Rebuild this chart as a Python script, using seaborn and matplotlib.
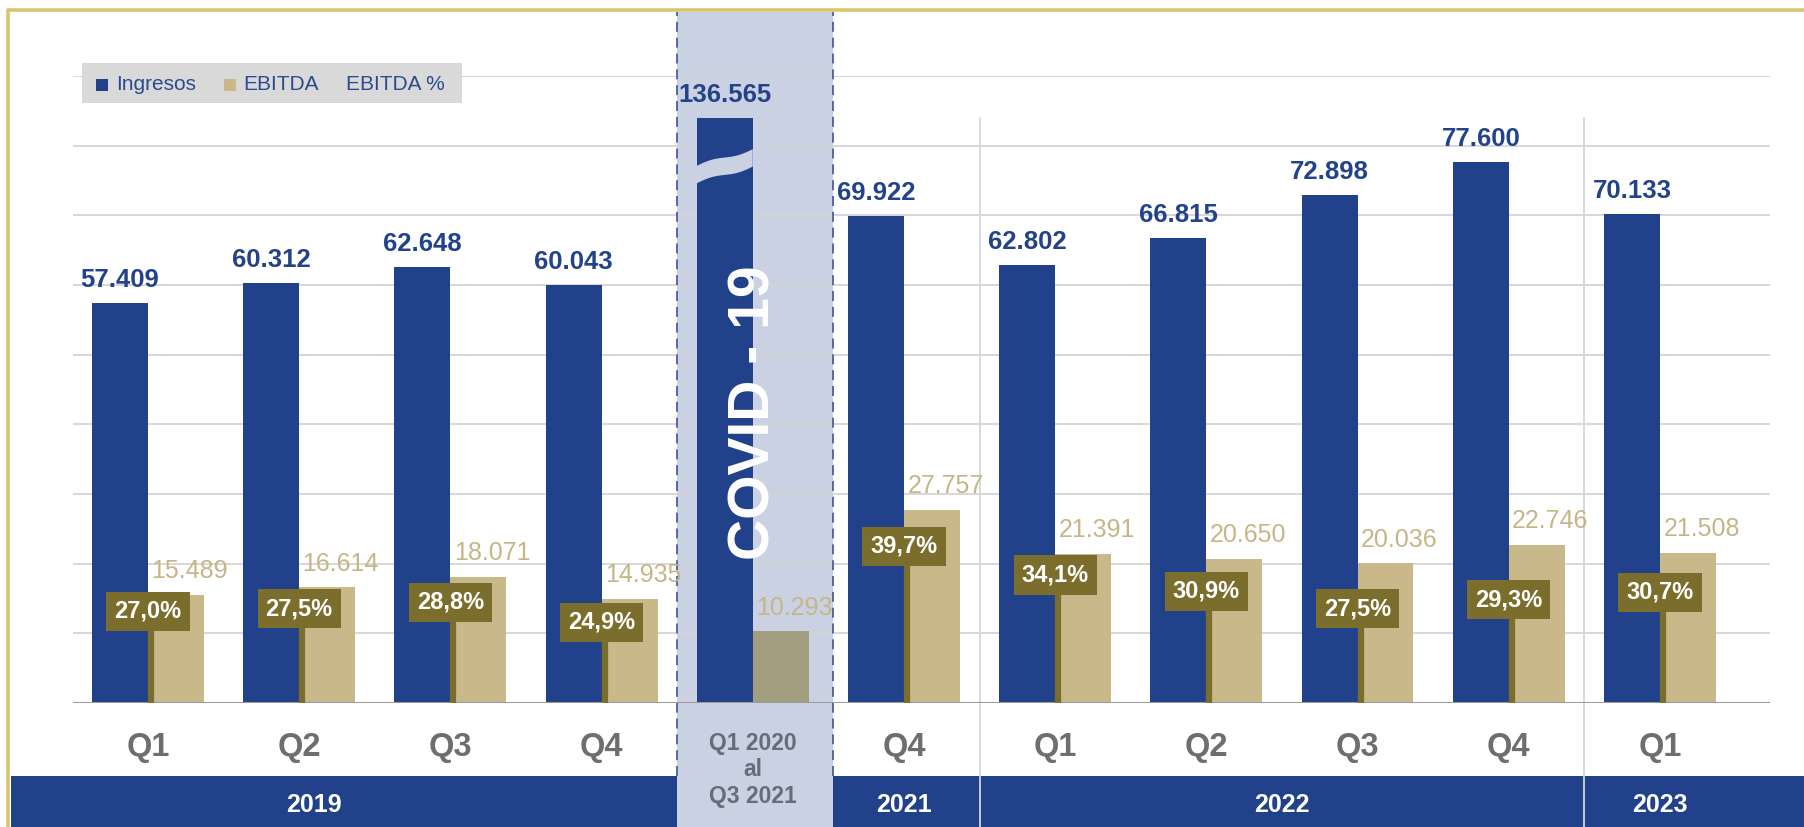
import numpy as np
import pandas as pd
import matplotlib
matplotlib.use("Agg")
import matplotlib.pyplot as plt
import seaborn as sns
from matplotlib.patches import Rectangle, Polygon
from matplotlib.lines import Line2D
from matplotlib.transforms import blended_transform_factory

# ---------------- data ----------------
periods = ["Q1 2019", "Q2 2019", "Q3 2019", "Q4 2019", "Q1 2020 - Q3 2021", "Q4 2021",
           "Q1 2022", "Q2 2022", "Q3 2022", "Q4 2022", "Q1 2023"]
tick_labels = ["Q1", "Q2", "Q3", "Q4", "Q1 2020\nal\nQ3 2021", "Q4", "Q1", "Q2", "Q3", "Q4", "Q1"]
ingresos = [57409, 60312, 62648, 60043, 136565, 69922, 62802, 66815, 72898, 77600, 70133]
ebitda = [15489, 16614, 18071, 14935, 10293, 27757, 21391, 20650, 20036, 22746, 21508]
ebitda_pct = [27.0, 27.5, 28.8, 24.9, np.nan, 39.7, 34.1, 30.9, 27.5, 29.3, 30.7]
years = ["2019", "2021", "2022", "2023"]
series_names = ["Ingresos", "EBITDA", "EBITDA %"]
covid_text = "COVID - 19"
covid_index = 4

# ---------------- style ----------------
NAVY = "#21418a"
GOLD = "#c9b98a"
GOLD_TXT = "#c6b687"
COVID_GOLD = "#a39d80"
OLIVE = "#7b6d2b"
SHADE = "#c9d1e3"
GRID = "#d4d4d4"
QGREY = "#6e6e6e"
BORDER = "#d8c66e"
BREAK_CAP = 84.0  # axis break for the out-of-scale bar

sns.set_style("white")
plt.rcParams["font.family"] = ["Liberation Sans", "DejaVu Sans"]

W, H = 1804, 827
fig = plt.figure(figsize=(W / 100, H / 100), dpi=100)
fig.patch.set_facecolor("white")
ax = fig.add_axes([73 / W, 124 / H, 1697 / W, 627 / H])

ing_k = np.array(ingresos) / 1000.0
ebi_k = np.array(ebitda) / 1000.0
ing_plot = np.minimum(ing_k, BREAK_CAP)

df = pd.DataFrame({
    "period": periods * 2,
    "serie": [series_names[0]] * len(periods) + [series_names[1]] * len(periods),
    "valor": list(ing_plot) + list(ebi_k),
})
sns.barplot(data=df, x="period", y="valor", hue="serie", order=periods,
            hue_order=series_names[:2], palette=[NAVY, GOLD], width=0.74,
            saturation=1, errorbar=None, legend=False, ax=ax, zorder=2,
            linewidth=0, edgecolor="none")
ax.containers[1][covid_index].set_facecolor(COVID_GOLD)

ax.set_xlim(-0.496, 10.728)
ax.set_ylim(0, 90)
ax.set_xlabel("")
ax.set_ylabel("")
for s in ax.spines.values():
    s.set_visible(False)
ax.set_yticks(np.arange(10, 91, 10))
ax.yaxis.grid(True, color=GRID, lw=1.3)
ax.xaxis.grid(False)
ax.set_axisbelow(True)
ax.tick_params(axis="y", length=0, labelleft=False)
ax.set_xticks(range(len(periods)), tick_labels)
ax.tick_params(axis="x", length=0, pad=21, labelsize=23.5, labelcolor=QGREY)
for k, lbl in enumerate(ax.get_xticklabels()):
    lbl.set_fontweight("bold")
    if k == covid_index:
        lbl.set_fontsize(16.5)
        lbl.set_color("#676c79")
        lbl.set_linespacing(1.18)
ax.axhline(0, color="#9b9b9b", lw=2.2, zorder=2.5)

bt = blended_transform_factory(ax.transData, fig.transFigure)
band_top = 51 / H
top_border = 1 - 10 / H

# COVID shaded period
ax.add_patch(Rectangle((3.5, 0), 1.03, 1 - 12 / H, transform=bt, facecolor=SHADE,
                       edgecolor="none", zorder=0.2, clip_on=False))
for xv in (3.5, 4.53):
    ax.add_line(Line2D([xv, xv], [band_top, 1 - 12 / H], transform=bt, color="#3b5697",
                       lw=1.2, ls=(0, (6, 3.5)), zorder=0.6, clip_on=False))

# year band
fig.add_artist(Rectangle((11 / W, 0), 1, band_top, transform=fig.transFigure,
                         facecolor=NAVY, edgecolor="none", zorder=-1))
year_x = [1.1, 5.0, 7.5, 10.0]
for yx, yl in zip(year_x, years):
    ax.text(yx, 22 / H, yl, transform=bt, ha="center", va="center", fontsize=18,
            fontweight="bold", color="white", zorder=5, clip_on=False)

# separators between years
for xv in (5.5, 9.5):
    ax.add_line(Line2D([xv, xv], [0, 1 - 118 / H], transform=bt, color="#d6d6d6",
                       lw=1.3, zorder=0.7, clip_on=False))

# break on the COVID bar
bar_left = covid_index - 0.37
t = np.linspace(0, 1, 60)
s = t + 0.1 * np.sin(2 * np.pi * t)
xs = bar_left + 0.37 * t
low = 74.6 + 2.4 * s
up = low + 2.5
poly = np.column_stack([np.concatenate([xs, xs[::-1]]), np.concatenate([low, up[::-1]])])
ax.add_patch(Polygon(poly, closed=True, facecolor=SHADE, edgecolor="none", zorder=3))

# value labels
fmt = lambda v: f"{v:,}".replace(",", ".")
for i, v in enumerate(ingresos):
    ax.text(i - 0.185, ing_plot[i] + 3.3, fmt(v), ha="center", va="center",
            fontsize=18.5, fontweight="bold", color="#22428a", zorder=5, clip_on=False)
for i, v in enumerate(ebitda):
    ax.text(i + 0.185 + 0.09, ebi_k[i] + 3.4, fmt(v), ha="center", va="center",
            fontsize=18, color=GOLD_TXT, zorder=5)

ax.text(4.01, 41.7, covid_text, rotation=90, ha="center", va="center", fontsize=41,
        fontweight="bold", color="white", zorder=6)

# EBITDA % on secondary scale
ax2 = ax.twinx()
ax2.set_ylim(9.14, 131.4)
ax2.set_axis_off()
ylo = ax2.get_ylim()[0]
for i, p in enumerate(ebitda_pct):
    if np.isnan(p):
        continue
    ax2.vlines(i + 0.02, ylo, p, color=OLIVE, lw=4.5, zorder=2)
    ax2.text(i, p, f"{p:.1f}".replace(".", ",") + "%", ha="center", va="center",
             fontsize=17, fontweight="bold", color="white", zorder=4,
             bbox=dict(boxstyle="square,pad=0.34", facecolor=OLIVE, edgecolor="none"))

# gold frame
fig.add_artist(Line2D([8 / W, 8 / W, 1], [0, top_border, top_border], transform=fig.transFigure,
                      color=BORDER, lw=2.6, zorder=10))

# legend
fig.add_artist(Rectangle((81.5 / W, 1 - 103 / H), 380 / W, 40 / H, transform=fig.transFigure,
                         facecolor="#d9d9d9", edgecolor="none", zorder=5))
leg = [(96, NAVY, 116, series_names[0]), (224, GOLD, 243, series_names[1]), (None, None, 346, series_names[2])]
for sx, col, tx, name in leg:
    if sx is not None:
        fig.add_artist(Rectangle((sx / W, 1 - 91 / H), 12 / W, 12 / H, transform=fig.transFigure,
                                 facecolor=col, edgecolor="none", zorder=6))
    fig.text(tx / W, 1 - 84 / H, name, ha="left", va="center", fontsize=15,
             color="#2c4b8e", zorder=6)

fig.savefig("out.png", dpi=100, facecolor="white")
